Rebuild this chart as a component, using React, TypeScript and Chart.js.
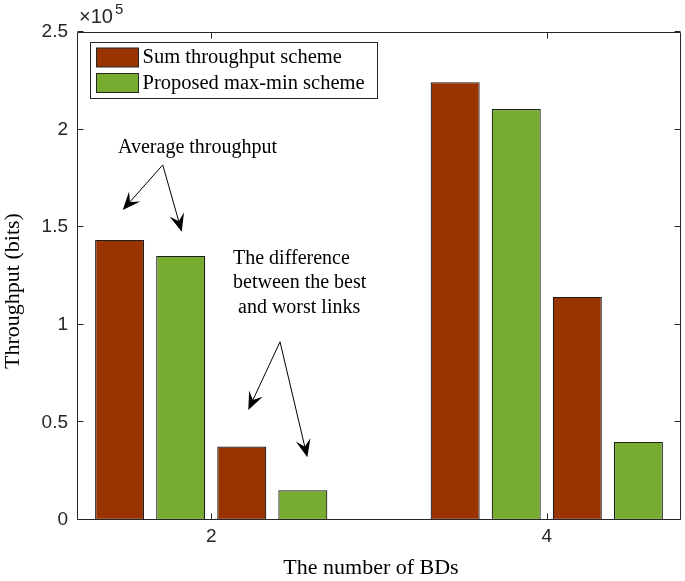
import React, { useEffect, useRef } from "react";
import { Chart, registerables } from "chart.js";

Chart.register(...registerables);

// ---- data ----
const bdCounts = [2, 4];
const sumAvg = [143500, 224300];
const propAvg = [135300, 210500];
const sumDiff = [37600, 114300];
const propDiff = [15200, 40000];
const yTicks = [0, 50000, 100000, 150000, 200000, 250000];
const legendLabels = ["Sum throughput scheme", "Proposed max-min scheme"];
const xTitle = "The number of BDs";
const yTitle = "Throughput (bits)";
const avgNote = "Average throughput";
const diffNote = ["The difference", "between the best", " and worst links"];

// annotation anchors in data coordinates
const avgNotePos = { x: 1.4446, y: 188000 };
const avgArrowFrom = { x: 1.711, y: 181900 };
const avgArrowTips = [
  { x: 1.4726, y: 158800 },
  { x: 1.8242, y: 147700 },
];
const diffNoteX = 2.1299;
const diffNoteY = [131100, 118600, 106000];
const diffArrowFrom = { x: 2.41, y: 91300 };
const diffArrowTips = [
  { x: 2.2211, y: 56400 },
  { x: 2.5727, y: 32100 },
];

const BROWN = "#993300";
const GREEN = "#77AC30";
const INK = "#262626";
const SERIF = "'Liberation Serif', 'Times New Roman', serif";
const SANS = "'Liberation Sans', Arial, sans-serif";

function drawArrow(ctx: CanvasRenderingContext2D, x0: number, y0: number, x1: number, y1: number) {
  const dx = x1 - x0;
  const dy = y1 - y0;
  const len = Math.hypot(dx, dy);
  const ux = dx / len;
  const uy = dy / len;
  const nx = -uy;
  const ny = ux;
  const L = 18;
  const W = 15;
  const notch = 0.6 * L;
  ctx.beginPath();
  ctx.moveTo(x0, y0);
  ctx.lineTo(x1 - ux * notch, y1 - uy * notch);
  ctx.stroke();
  ctx.beginPath();
  ctx.moveTo(x1, y1);
  ctx.lineTo(x1 - ux * L + nx * (W / 2), y1 - uy * L + ny * (W / 2));
  ctx.lineTo(x1 - ux * notch, y1 - uy * notch);
  ctx.lineTo(x1 - ux * L - nx * (W / 2), y1 - uy * L - ny * (W / 2));
  ctx.closePath();
  ctx.fill();
}

const matlabPlugin = {
  id: "matlabDecor",
  afterDatasetsDraw(chart: any) {
    const { ctx, chartArea: a, scales } = chart;
    const xs = scales.x;
    const ys = scales.y;
    ctx.save();
    ctx.strokeStyle = INK;
    ctx.lineWidth = 1;
    const L = a.left + 0.5;
    const R = a.right - 0.5;
    const T = a.top + 0.5;
    const B = a.bottom - 0.5;
    ctx.beginPath();
    ctx.rect(L, T, R - L, B - T);
    ctx.stroke();
    const tl = 6;
    ctx.beginPath();
    for (const v of yTicks) {
      const y = Math.round(ys.getPixelForValue(v)) - 0.5;
      ctx.moveTo(L, y);
      ctx.lineTo(L + tl, y);
      ctx.moveTo(R, y);
      ctx.lineTo(R - tl, y);
    }
    for (const v of bdCounts) {
      const x = Math.round(xs.getPixelForValue(v)) + 0.5;
      ctx.moveTo(x, B);
      ctx.lineTo(x, B - tl);
      ctx.moveTo(x, T);
      ctx.lineTo(x, T + tl);
    }
    ctx.stroke();
    ctx.restore();
  },
  afterDraw(chart: any) {
    const { ctx, chartArea: a, scales } = chart;
    const xs = scales.x;
    const ys = scales.y;
    const px = (p: { x: number; y: number }) => [xs.getPixelForValue(p.x), ys.getPixelForValue(p.y)];
    ctx.save();

    // legend
    const bx = a.left + 13.5;
    const by = a.top + 10.5;
    const bw = 287;
    const bh = 56;
    ctx.fillStyle = "#ffffff";
    ctx.fillRect(bx, by, bw, bh);
    ctx.strokeStyle = INK;
    ctx.lineWidth = 1;
    ctx.strokeRect(bx, by, bw, bh);
    const ds = chart.data.datasets;
    const rows = [0, 1];
    rows.forEach((i) => {
      const sy = by + 5.5 + i * 25.5;
      ctx.fillStyle = ds[i].backgroundColor;
      ctx.fillRect(bx + 6, sy, 42, 19);
      ctx.strokeStyle = INK;
      ctx.strokeRect(bx + 6, sy, 42, 19);
      ctx.fillStyle = "#000";
      ctx.font = `20.5px ${SERIF}`;
      ctx.textAlign = "left";
      ctx.textBaseline = "middle";
      ctx.fillText(ds[i].label, bx + 52, sy + 10);
    });

    // annotations
    ctx.fillStyle = "#000";
    ctx.strokeStyle = "#000";
    ctx.lineWidth = 1;
    ctx.font = `20px ${SERIF}`;
    ctx.textAlign = "left";
    ctx.textBaseline = "alphabetic";
    const [ax, ay] = px(avgNotePos);
    ctx.fillText(avgNote, ax, ay);
    const [f1x, f1y] = px(avgArrowFrom);
    for (const t of avgArrowTips) {
      const [tx, ty] = px(t);
      drawArrow(ctx, f1x, f1y, tx, ty);
    }
    diffNote.forEach((line, i) => {
      ctx.fillText(line, xs.getPixelForValue(diffNoteX), ys.getPixelForValue(diffNoteY[i]));
    });
    const [f2x, f2y] = px(diffArrowFrom);
    for (const t of diffArrowTips) {
      const [tx, ty] = px(t);
      drawArrow(ctx, f2x, f2y, tx, ty);
    }

    // exponent
    ctx.fillStyle = INK;
    ctx.font = `20px ${SANS}`;
    ctx.textBaseline = "alphabetic";
    const base = "\u00d710";
    ctx.fillText(base, a.left + 2, a.top - 9);
    const w = ctx.measureText(base).width;
    ctx.font = `15px ${SANS}`;
    ctx.fillText("5", a.left + 2 + w + 2, a.top - 18);

    // axis titles
    ctx.fillStyle = "#000";
    ctx.font = `22px ${SERIF}`;
    ctx.textAlign = "center";
    ctx.textBaseline = "middle";
    ctx.fillText(xTitle, (a.left + a.right) / 2 - 8, a.bottom + 48);
    ctx.save();
    ctx.translate(13.5, (a.top + a.bottom) / 2 + 15);
    ctx.rotate(-Math.PI / 2);
    ctx.fillText(yTitle, 0, 0);
    ctx.restore();

    ctx.restore();
  },
};

export default function App() {
  const ref = useRef<HTMLCanvasElement>(null);
  useEffect(() => {
    const canvas = ref.current!;
    const toPts = (arr: number[]) => arr.map((y, i) => ({ x: bdCounts[i], y }));
    const mk = (label: string, data: number[], color: string) => ({
      label,
      data: toPts(data),
      backgroundColor: color,
      borderColor: "#1e1e1e",
      borderWidth: 1.2,
      borderSkipped: false,
      categoryPercentage: 0.728,
      barPercentage: 0.803,
    });
    const chart = new Chart(canvas, {
      type: "bar",
      data: {
        datasets: [
          mk(legendLabels[0], sumAvg, BROWN),
          mk(legendLabels[1], propAvg, GREEN),
          mk(legendLabels[0], sumDiff, BROWN),
          mk(legendLabels[1], propDiff, GREEN),
        ] as any,
      },
      options: {
        animation: false,
        responsive: false,
        maintainAspectRatio: false,
        layout: { padding: { top: 32, right: 4, left: 0, bottom: 0 } },
        plugins: { legend: { display: false }, tooltip: { enabled: false } },
        scales: {
          x: {
            type: "linear",
            min: 1.2,
            max: 4.8,
            offset: false,
            grid: { display: false, drawTicks: false },
            border: { display: false },
            afterBuildTicks: (s: any) => {
              s.ticks = bdCounts.map((v) => ({ value: v }));
            },
            ticks: {
              font: { family: SANS, size: 19 },
              color: INK,
              padding: 5,
              maxRotation: 0,
              autoSkip: false,
              callback: (v: any) => String(v),
            },
            afterFit: (s: any) => {
              s.height = 61;
            },
          },
          y: {
            min: 0,
            max: 250000,
            grid: { display: false, drawTicks: false },
            border: { display: false },
            afterBuildTicks: (s: any) => {
              s.ticks = yTicks.map((v) => ({ value: v }));
            },
            ticks: {
              font: { family: SANS, size: 19 },
              color: INK,
              padding: 9,
              autoSkip: false,
              callback: (v: any) => String(Number(v) / 1e5),
            },
            afterFit: (s: any) => {
              s.width = 77;
            },
          },
        } as any,
      },
      plugins: [matlabPlugin],
    });
    return () => chart.destroy();
  }, []);
  return (
    <div style={{ position: "fixed", left: 0, top: 0, width: 685, height: 581, background: "#fff" }}>
      <canvas ref={ref} width={685} height={581} style={{ width: 685, height: 581, display: "block" }} />
    </div>
  );
}
